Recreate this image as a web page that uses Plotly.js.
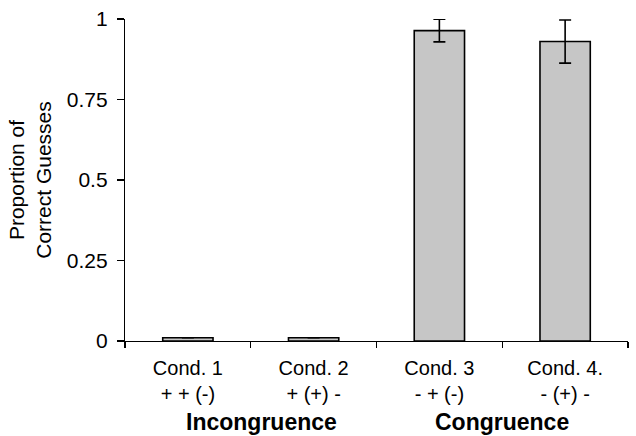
<!DOCTYPE html>
<html>
<head>
<meta charset="utf-8">
<script src="https://cdn.plot.ly/plotly-3.0.1.min.js"></script>
<style>html,body{margin:0;padding:0;background:#fff;}#chart{width:636px;height:436px;}</style>
</head>
<body>
<div id="chart"></div>
<script>
var categories = ["Cond. 1<br>+ + (-)", "Cond. 2<br>+ (+) -", "Cond. 3<br>- + (-)", "Cond. 4.<br>- (+) -"];
var proportions = [0.01, 0.01, 0.964, 0.93];
var errors = [0.0, 0.0, 0.035, 0.067];
var groupLabels = ["Incongruence", "Congruence"];
var groupPositions = [0.272, 0.75];
var yTickVals = [0, 0.25, 0.5, 0.75, 1];
var yTickText = ["0", "0.25", "0.5", "0.75", "1"];

var trace = {
  type: "bar",
  x: categories,
  y: proportions,
  width: 0.4,
  marker: {color: "#c6c6c6", line: {color: "#000", width: 1.6}},
  error_y: {type: "data", array: errors, visible: true, color: "#000", thickness: 1.6, width: 6}
};

var annotations = groupLabels.map(function (t, i) {
  return {text: "<b>" + t + "</b>", xref: "paper", yref: "paper", x: groupPositions[i], y: -0.252,
          xanchor: "center", yanchor: "middle", showarrow: false,
          font: {family: "Liberation Sans, Arial, sans-serif", size: 23, color: "#000"}};
});

var layout = {
  width: 636, height: 436,
  margin: {l: 125, r: 8, t: 19, b: 95},
  paper_bgcolor: "#fff", plot_bgcolor: "#fff",
  showlegend: false,
  font: {family: "Liberation Sans, Arial, sans-serif", size: 20, color: "#000"},
  xaxis: {
    type: "category", showline: true, linecolor: "#000", linewidth: 1.2,
    ticks: "outside", tickson: "boundaries", ticklen: 6, tickcolor: "#000", tickwidth: 1.2,
    showgrid: false, zeroline: false, tickfont: {size: 20}, ticklabelstandoff: 9
  },
  yaxis: {
    range: [0, 1], showline: true, linecolor: "#000", linewidth: 1.2,
    ticks: "outside", ticklen: 7, tickcolor: "#000", tickwidth: 1.2,
    tickvals: yTickVals, ticktext: yTickText, showgrid: false, zeroline: false,
    tickfont: {size: 21}, ticklabelstandoff: 5,
    title: {text: "Proportion of<br>Correct Guesses", font: {size: 21}, standoff: 9}
  },
  annotations: annotations
};

Plotly.newPlot("chart", [trace], layout, {displayModeBar: false, staticPlot: true});
</script>
</body>
</html>
